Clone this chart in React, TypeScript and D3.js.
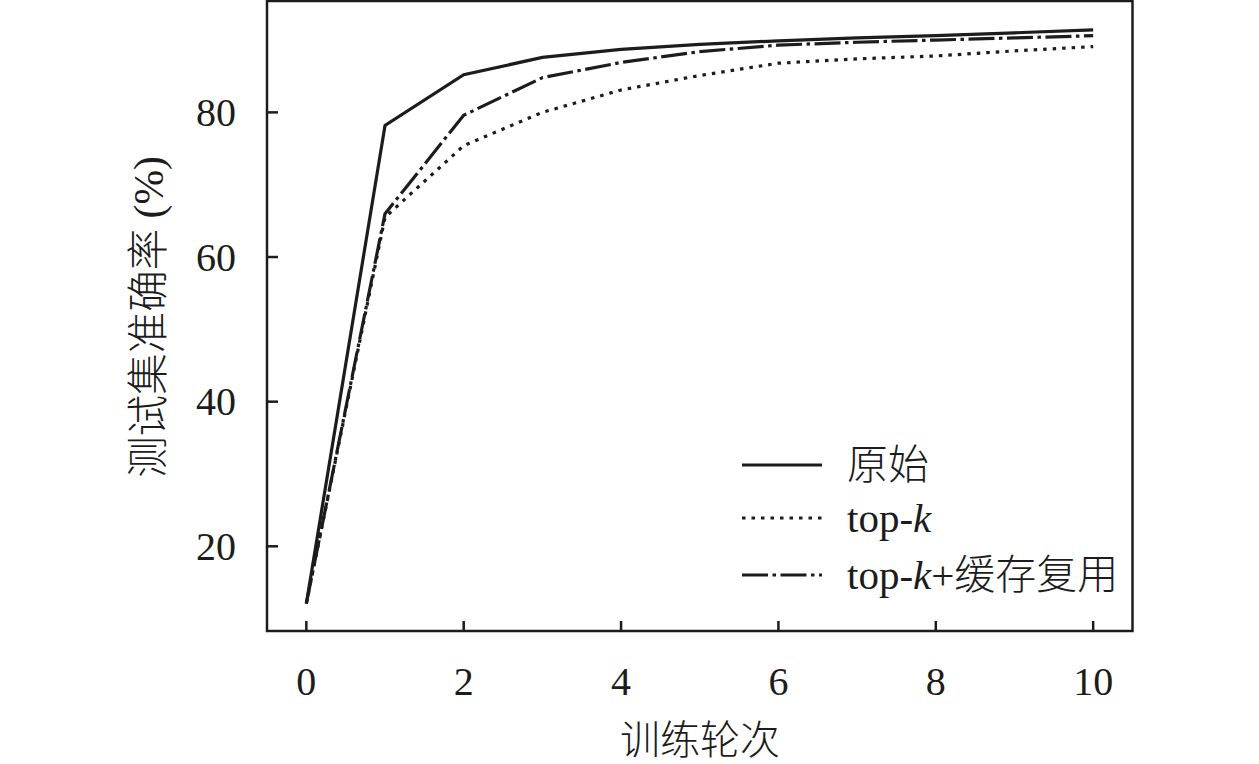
import React from "react";
import * as d3 from "d3";

const WIDTH = 1259;
const HEIGHT = 764;
const PLOT = { left: 267, right: 1132.5, top: 1, bottom: 631 };

const epochs = [0, 1, 2, 3, 4, 5, 6, 7, 8, 9, 10];
const original = [12.1, 78.2, 85.2, 87.6, 88.7, 89.4, 89.9, 90.3, 90.6, 91.0, 91.4];
const topK = [12.1, 65.5, 75.4, 80.0, 83.1, 85.1, 86.8, 87.4, 87.8, 88.5, 89.1];
const topKCache = [12.1, 66.0, 79.6, 84.8, 86.9, 88.4, 89.3, 89.7, 90.0, 90.3, 90.6];

const xTicks = [0, 2, 4, 6, 8, 10];
const yTicks = [20, 40, 60, 80];

const series = [
  { name: "原始", values: original, dash: "none" },
  { name: "top-k", values: topK, dash: "3.5 6" },
  { name: "top-k+缓存复用", values: topKCache, dash: "26 4.5 3.5 4.5" },
];

const INK = "#1c1c1c";
const FONT = "'Liberation Serif', 'Noto Sans CJK SC', serif";

export default function App() {
  const x = d3.scaleLinear().domain([-0.5, 10.5]).range([PLOT.left, PLOT.right]);
  const y = d3.scaleLinear().domain([8.29, 95.4]).range([PLOT.bottom, PLOT.top]);

  const line = d3
    .line<number>()
    .x((_, i) => x(epochs[i]))
    .y((d) => y(d));

  const legendY = [465, 518, 575];

  const renderLabel = (name: string) => {
    if (name.startsWith("top-k")) {
      return (
        <>
          top-<tspan fontStyle="italic">k</tspan>
          {name.slice(5)}
        </>
      );
    }
    return name;
  };

  return (
    <svg
      width={WIDTH}
      height={HEIGHT}
      style={{ position: "absolute", left: 0, top: 0, background: "#fff" }}
      fontFamily={FONT}
      fontWeight={300}
    >
      {/* frame */}
      <rect
        x={PLOT.left}
        y={PLOT.top}
        width={PLOT.right - PLOT.left}
        height={PLOT.bottom - PLOT.top}
        fill="none"
        stroke={INK}
        strokeWidth={2.5}
      />

      {/* x ticks, inward */}
      {xTicks.map((t) => (
        <g key={"x" + t}>
          <line x1={x(t)} x2={x(t)} y1={PLOT.bottom} y2={PLOT.bottom - 10} stroke={INK} strokeWidth={2.5} />
          <text x={x(t)} y={695} textAnchor="middle" fontSize={40} fill={INK}>
            {t}
          </text>
        </g>
      ))}

      {/* y ticks, inward */}
      {yTicks.map((t) => (
        <g key={"y" + t}>
          <line x1={PLOT.left} x2={PLOT.left + 11} y1={y(t)} y2={y(t)} stroke={INK} strokeWidth={2.5} />
          <text x={236} y={y(t) + 13.5} textAnchor="end" fontSize={40} fill={INK}>
            {t}
          </text>
        </g>
      ))}

      {/* axis titles */}
      <text x={700} y={754} textAnchor="middle" fontSize={40} fill={INK}>
        训练轮次
      </text>
      <text
        transform="translate(163,317) rotate(-90)"
        textAnchor="middle"
        fontSize={41.5}
        fill={INK}
      >
        测试集准确率 (%)
      </text>

      {/* lines */}
      {series.map((s) => (
        <path
          key={s.name}
          d={line(s.values) || ""}
          fill="none"
          stroke={INK}
          strokeWidth={3.2}
          strokeDasharray={s.dash}
          strokeLinejoin="miter"
        />
      ))}

      {/* legend */}
      {series.map((s, i) => (
        <g key={"leg" + s.name}>
          <line
            x1={742}
            x2={822}
            y1={legendY[i]}
            y2={legendY[i]}
            stroke={INK}
            strokeWidth={3.2}
            strokeDasharray={s.dash}
          />
          <text x={847} y={legendY[i] + 14} fontSize={41} fill={INK}>
            {renderLabel(s.name)}
          </text>
        </g>
      ))}
    </svg>
  );
}
